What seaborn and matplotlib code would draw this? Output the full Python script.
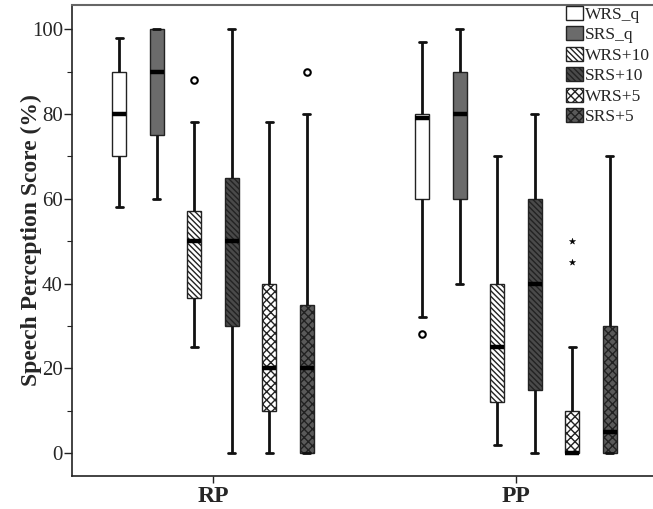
import numpy as np
import pandas as pd
import matplotlib
matplotlib.use("Agg")
import matplotlib.pyplot as plt
import seaborn as sns
from matplotlib.patches import Patch
from matplotlib.ticker import MultipleLocator

# ---------------- data ----------------
groups = ["RP", "PP"]
conditions = ["WRS_q", "SRS_q", "WRS+10", "SRS+10", "WRS+5", "SRS+5"]

RP_low  = [58, 60, 25, 0, 0, 0]
RP_q1   = [70, 75, 36.5, 30, 10, 0]
RP_med  = [80, 90, 50, 50, 20, 20]
RP_q3   = [90, 100, 57, 65, 40, 35]
RP_high = [98, 100, 78, 100, 78, 80]

PP_low  = [32, 40, 2, 0, 0, 0]
PP_q1   = [60, 60, 12, 15, 0, 0]
PP_med  = [79, 80, 25, 40, 0, 5]
PP_q3   = [80, 90, 40, 60, 10, 30]
PP_high = [97, 100, 70, 80, 25, 70]

# outliers (circle) and extremes (star)
out_group = ["RP", "RP", "PP"]
out_cond  = ["WRS+10", "SRS+5", "WRS_q"]
out_value = [88, 90, 28]
ext_group = ["PP", "PP"]
ext_cond  = ["WRS+5", "WRS+5"]
ext_value = [50, 45]

# ---------------- styles ----------------
fills   = ["white", "#6b6b6b", "white", "#4a4a4a", "white", "#5a5a5a"]
hatches = [None, None, "\\" * 6, "\\" * 6, "xxxx", "xxxx"]
step = 0.1235
box_w = 0.046

summ = {"RP": (RP_low, RP_q1, RP_med, RP_q3, RP_high),
        "PP": (PP_low, PP_q1, PP_med, PP_q3, PP_high)}

rows = []
for gi, g in enumerate(groups):
    for ci, c in enumerate(conditions):
        pos = gi + (ci - 2.5) * step
        for arr in summ[g]:
            rows.append({"group": g, "cond": c, "pos": pos, "score": arr[ci]})
df = pd.DataFrame(rows)

def position(g, c):
    return groups.index(g) + (conditions.index(c) - 2.5) * step

odf = pd.DataFrame({"pos": [position(g, c) for g, c in zip(out_group, out_cond)],
                    "score": out_value})
edf = pd.DataFrame({"pos": [position(g, c) for g, c in zip(ext_group, ext_cond)],
                    "score": ext_value})

sns.set_theme(style="ticks")
plt.rcParams["font.family"] = ["Liberation Serif", "DejaVu Serif"]
plt.rcParams["hatch.linewidth"] = 1.0

fig = plt.figure(figsize=(6.53, 5.09), dpi=100)
W, H = 653, 509
ax = fig.add_axes([72 / W, (H - 476) / H, (657 - 72) / W, (476 - 5) / H])

for ci, c in enumerate(conditions):
    sub = df[df["cond"] == c]
    n0 = len(ax.patches)
    sns.boxplot(data=sub, x="pos", y="score", native_scale=True, width=box_w,
                color=fills[ci], saturation=1, linecolor="#222222", linewidth=1,
                whis=(0, 100), showfliers=False, ax=ax,
                medianprops={"linewidth": 3.2, "color": "black"},
                whiskerprops={"linewidth": 2, "color": "#111111"},
                capprops={"linewidth": 2, "color": "#111111"})
    for p in ax.patches[n0:]:
        p.set_facecolor(fills[ci])
        p.set_edgecolor("#222222")
        if hatches[ci]:
            p.set_hatch(hatches[ci])

sns.scatterplot(data=odf, x="pos", y="score", marker="o", s=22,
                facecolor="white", edgecolor="black", linewidth=1.5, ax=ax, zorder=5)
sns.scatterplot(data=edf, x="pos", y="score", marker="*", s=22,
                color="black", edgecolor="black", linewidth=0.3, ax=ax, zorder=5)

ax.set_xlim(-0.465, 1.465)
ax.set_ylim(-5.4, 105.7)
ax.set_xticks(range(len(groups)))
ax.set_xticklabels(groups, fontsize=17, fontweight="bold")
ax.set_yticks([0, 20, 40, 60, 80, 100])
ax.yaxis.set_minor_locator(MultipleLocator(10))
ax.tick_params(axis="y", which="major", labelsize=15, length=6, width=1, pad=0.5,
               direction="out", color="#222222")
ax.tick_params(axis="y", which="minor", length=3.5, width=0.8, direction="out", color="#222222")
ax.tick_params(axis="x", which="major", length=5, width=1, direction="out", pad=2, color="#222222")
ax.set_xlabel("")
ax.set_ylabel("Speech Perception Score (%)", fontsize=17, fontweight="bold")
ax.yaxis.set_label_coords(-0.051, 0.5)
for s in ["left", "bottom"]:
    ax.spines[s].set_color("#222222")
    ax.spines[s].set_linewidth(1.2)
ax.spines["top"].set_color("#666666")
ax.spines["top"].set_linewidth(1.5)
ax.spines["right"].set_visible(False)

handles = [Patch(facecolor=fills[i], edgecolor="#222222", hatch=hatches[i], label=c)
           for i, c in enumerate(conditions)]
ax.legend(handles=handles, loc="upper left", bbox_to_anchor=(566 / W, 1 - 6 / H),
          bbox_transform=fig.transFigure, frameon=False, fontsize=12.5,
          handlelength=0.98, handleheight=0.86, handletextpad=0.1,
          labelspacing=0.2, borderpad=0, borderaxespad=0)

fig.savefig("out.png", dpi=100)
